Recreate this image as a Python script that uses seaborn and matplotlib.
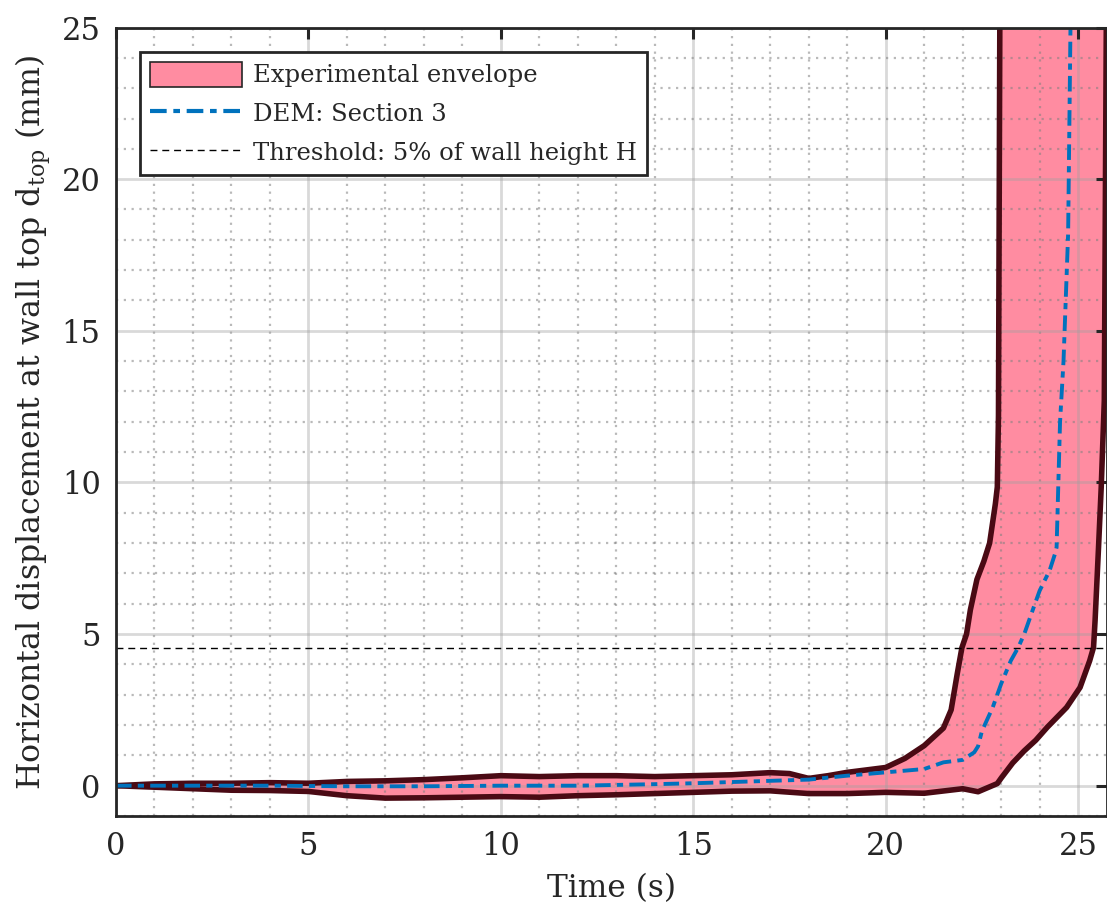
import numpy as np
import pandas as pd
import matplotlib
matplotlib.use("Agg")
import matplotlib.pyplot as plt
import seaborn as sns
from matplotlib.ticker import MultipleLocator
from matplotlib.patches import Patch
from matplotlib.lines import Line2D

# Experimental envelope (upper / lower bounds)
t_upper = [0, 1, 2, 3, 4, 5, 6, 7, 8, 9, 10, 11, 12, 13, 14, 15, 16, 17, 17.5,
           18, 18.5, 19, 19.5, 20, 20.5, 21, 21.5, 21.7, 21.86, 21.98,
           22.1, 22.2, 22.37, 22.55, 22.7, 22.85, 22.9, 22.93, 22.97]
d_upper = [0, 0.06, 0.08, 0.08, 0.1, 0.08, 0.14, 0.16, 0.2, 0.26, 0.33, 0.3, 0.33,
           0.33, 0.3, 0.33, 0.36, 0.43, 0.4, 0.24, 0.33, 0.44, 0.52, 0.6, 0.9,
           1.32, 1.9, 2.5, 3.7, 4.55, 5.0, 5.8, 6.8, 7.4, 8.0, 9.3, 9.85,
           12.2, 27]

t_lower = [0, 1, 2, 3, 4, 5, 6, 7, 8, 9, 10, 11, 12, 13, 14, 15, 16, 17, 18, 19,
           20, 21, 22, 22.4, 22.9, 23.0, 23.3, 23.6, 23.9, 24.2, 24.7, 25.05,
           25.3, 25.4, 25.44, 25.53, 25.6, 25.68, 25.74]
d_lower = [0, -0.05, -0.1, -0.15, -0.16, -0.19, -0.33, -0.41, -0.4, -0.38, -0.36,
           -0.38, -0.33, -0.3, -0.26, -0.22, -0.18, -0.17, -0.26, -0.26, -0.22,
           -0.25, -0.1, -0.2, 0.07, 0.25, 0.75, 1.15, 1.5, 1.93, 2.58, 3.24,
           4.12, 4.56, 5.44, 7.86, 9.85, 12.7, 27]

# DEM: Section 3
t_dem = [0, 2, 4, 6, 8, 10, 12, 14, 15, 16, 17, 18, 19, 20, 21, 21.5, 22, 22.3,
         22.4, 22.5, 22.78, 23.0, 23.25, 23.44, 23.6, 23.85, 24.0, 24.26, 24.4,
         24.44, 24.53, 24.62, 24.74, 24.8, 24.82]
d_dem = [0, 0, 0, -0.02, -0.02, 0, 0, 0.05, 0.08, 0.12, 0.16, 0.2, 0.33, 0.44,
         0.55, 0.77, 0.85, 1.1, 1.3, 1.8, 2.58, 3.36, 4.12, 4.55, 5.0, 5.9, 6.43,
         7.1, 7.65, 7.86, 12.0, 14.0, 18.2, 24.9, 27]

threshold = 4.55

sns.set_theme(style="white")
plt.rcParams['font.family'] = ['DejaVu Serif']
plt.rcParams['mathtext.fontset'] = 'dejavuserif'

fig = plt.figure(figsize=(11.07, 9.09), dpi=100)
ax = fig.add_axes([0.1048, 0.1023, 0.8952, 0.8674])

env_color = '#ff8ca1'
edge_color = '#4a0a14'
dem_color = '#0072bd'

# envelope polygon: upper path forward, lower path backward
poly_t = t_upper + t_lower[::-1]
poly_d = d_upper + d_lower[::-1]
ax.fill(poly_t, poly_d, color=env_color, lw=0, zorder=2)

up = pd.DataFrame({'t': t_upper, 'd': d_upper})
lo = pd.DataFrame({'t': t_lower, 'd': d_lower})
dem = pd.DataFrame({'t': t_dem, 'd': d_dem})

sns.lineplot(data=up, x='t', y='d', ax=ax, color=edge_color, lw=4.0,
             estimator=None, sort=False, zorder=3)
sns.lineplot(data=lo, x='t', y='d', ax=ax, color=edge_color, lw=4.0,
             estimator=None, sort=False, zorder=3)
sns.lineplot(data=dem, x='t', y='d', ax=ax, color=dem_color, lw=2.8,
             estimator=None, sort=False, zorder=4)
ax.lines[-1].set_dashes([4, 1.6, 1.6, 1.6])
ax.axhline(threshold, color='black', lw=1.0, ls=(0, (5, 3.5)), zorder=4)

# grid: major solid, minor dotted, drawn over the fill
ax.set_axisbelow(False)
ax.xaxis.set_major_locator(MultipleLocator(5))
ax.yaxis.set_major_locator(MultipleLocator(5))
ax.xaxis.set_minor_locator(MultipleLocator(1))
ax.yaxis.set_minor_locator(MultipleLocator(1))
ax.grid(which='major', color='#a0a0a0', alpha=0.4, lw=2.0, ls='-', zorder=5)
ax.grid(which='minor', color='#808080', alpha=0.55, lw=1.6, ls=(0, (1, 2.5)),
        zorder=5)

ax.set_xlim(0, 25.75)
ax.set_ylim(-1, 25)

for s in ax.spines.values():
    s.set_color('#262626')
    s.set_linewidth(2.0)
    s.set_zorder(6)

ax.tick_params(which='major', direction='in', length=8, width=2.2,
               color='#262626', labelsize=22, labelcolor='#262626',
               top=True, right=True, pad=11)
ax.tick_params(which='minor', length=0)

ax.set_xlabel('Time (s)', fontsize=22.5, color='#262626', labelpad=8)
ax.set_ylabel(r'Horizontal displacement at wall top $\mathrm{d_{top}}$ (mm)',
              fontsize=22.8, color='#262626', labelpad=6)

handles = [
    Patch(facecolor=env_color, edgecolor='#262626', lw=1.2),
    Line2D([], [], color=dem_color, lw=3.0, dashes=[4, 1.6, 1.6, 1.6]),
    Line2D([], [], color='black', lw=1.0, ls=(0, (5, 3.5))),
]
labels = ['Experimental envelope', 'DEM: Section 3',
          'Threshold: 5% of wall height H']
leg = ax.legend(handles, labels, loc='upper left',
                bbox_to_anchor=(0.024, 0.969), fontsize=17.5, frameon=True,
                fancybox=False, edgecolor='#262626', framealpha=1,
                borderpad=0.4, handlelength=3.8, handleheight=1.2,
                handletextpad=0.45, labelspacing=0.55, borderaxespad=0)
leg.get_frame().set_linewidth(2.0)
leg.set_zorder(10)

fig.savefig('out.png', dpi=100)
